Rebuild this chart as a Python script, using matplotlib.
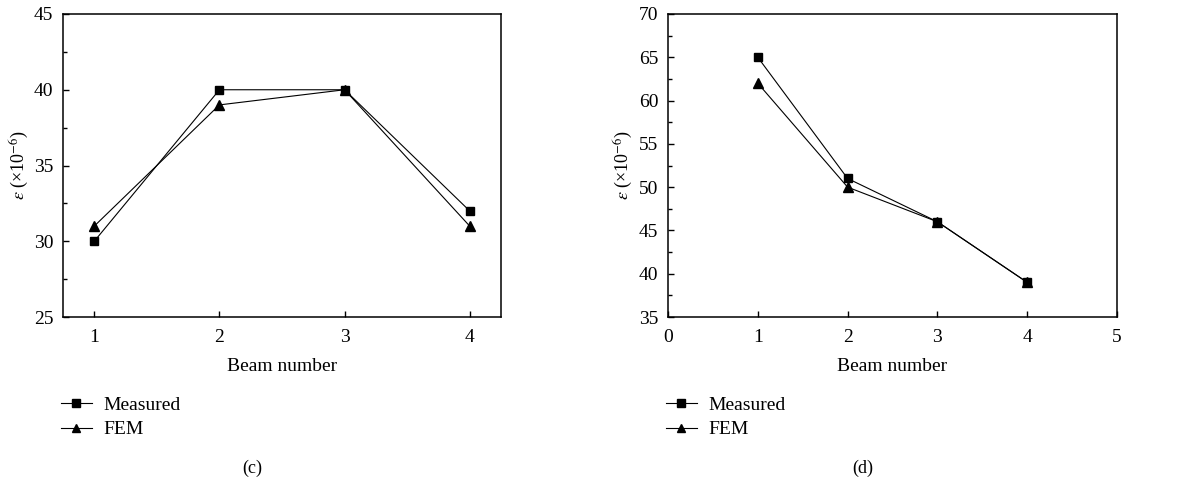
import matplotlib.pyplot as plt
from matplotlib.ticker import MultipleLocator

plt.switch_backend("Agg")

plt.rcParams["font.family"] = ["Liberation Serif", "DejaVu Serif"]
plt.rcParams["mathtext.fontset"] = "stix"

# Strain per beam, panel (c)
beams_c = [1, 2, 3, 4]
measured_c = [30, 40, 40, 32]
fem_c = [31, 39, 40, 31]

# Strain per beam, panel (d)
beams_d = [1, 2, 3, 4]
measured_d = [65, 51, 46, 39]
fem_d = [62, 50, 46, 39]

W, H = 1179, 483
fig = plt.figure(figsize=(W / 100, H / 100), dpi=100)


def px_axes(left, right, top, bottom):
    return fig.add_axes([left / W, 1 - bottom / H, (right - left) / W, (bottom - top) / H])


def draw_panel(ax, x, meas, fem, xlim, ylim, xticks, tag, tag_x):
    ax.plot(x, meas, color="black", lw=0.8, marker="s", ms=6, label="Measured")
    ax.plot(x, fem, color="black", lw=0.8, marker="^", ms=7, label="FEM")
    ax.set_xlim(*xlim)
    ax.set_ylim(*ylim)
    ax.set_xticks(xticks)
    ax.yaxis.set_major_locator(MultipleLocator(5))
    ax.yaxis.set_minor_locator(MultipleLocator(2.5))
    ax.tick_params(axis="both", which="both", direction="in", top=False, right=False,
                   labelsize=14, width=1.0)
    ax.tick_params(axis="both", which="major", length=4)
    ax.tick_params(axis="y", which="minor", length=3)
    ax.tick_params(axis="x", pad=9)
    ax.tick_params(axis="y", pad=7)
    for s in ax.spines.values():
        s.set_linewidth(1.1)
    ax.set_xlabel("Beam number", fontsize=14)
    ax.xaxis.set_label_coords(0.5, -0.134)
    ax.set_ylabel(r"$\varepsilon$ (×10$^{-6}$)", fontsize=13)
    ax.yaxis.set_label_coords(-0.074, 0.5)
    leg = ax.legend(loc="upper left", bbox_to_anchor=(-0.005, -0.262), frameon=False,
                    fontsize=14, handlelength=1.6, handletextpad=0.6,
                    labelspacing=0.35, borderaxespad=0, borderpad=0)
    for h in leg.legend_handles:
        h.set_markersize(5.5)
    fig.text(tag_x / W, 1 - 468 / H, tag, ha="center", va="center", fontsize=13)


ax_c = px_axes(63, 501, 14, 317)
draw_panel(ax_c, beams_c, measured_c, fem_c, (0.75, 4.25), (25, 45), [1, 2, 3, 4], "(c)", 252)

ax_d = px_axes(668, 1117, 14, 317)
draw_panel(ax_d, beams_d, measured_d, fem_d, (0, 5), (35, 70), [0, 1, 2, 3, 4, 5], "(d)", 863)

fig.savefig("out.png", dpi=100)
